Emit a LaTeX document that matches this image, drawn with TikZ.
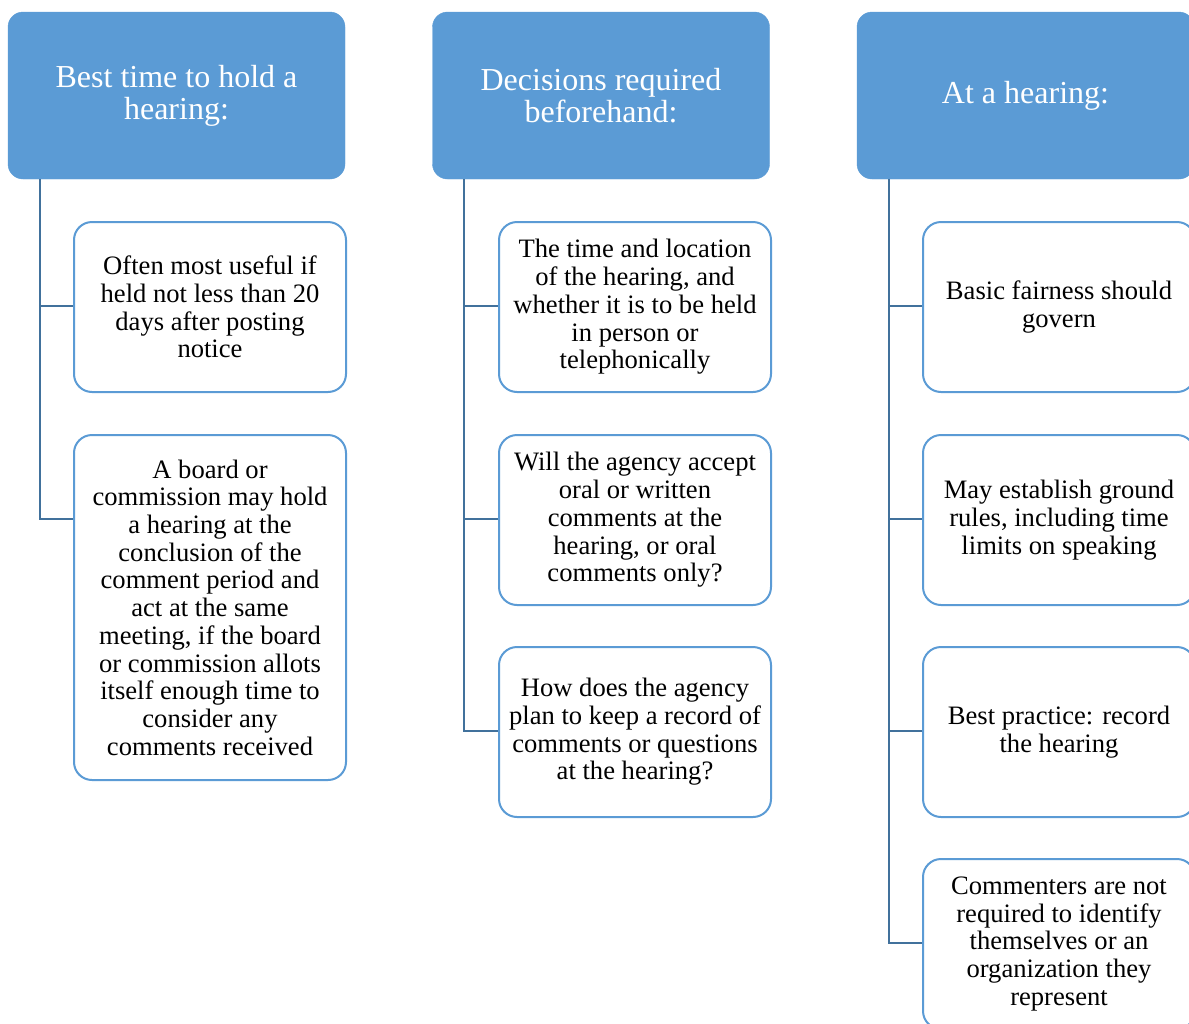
\documentclass[tikz,border=0pt]{standalone}
\usepackage{fontspec}
\setmainfont{Liberation Serif}
\definecolor{hdrblue}{RGB}{91, 155, 213}
\definecolor{linkblue}{RGB}{65, 113, 156}
\usetikzlibrary{positioning, calc}

\tikzset{
  hdrbox/.style={fill=hdrblue, draw=hdrblue, rounded corners=15pt, minimum width=337pt, minimum height=167pt,
    text=white, align=center, inner sep=4pt, font=\fontsize{32}{32}\selectfont},
  itembox/.style={draw=hdrblue, fill=white, line width=2pt, rounded corners=18pt, minimum width=272pt, minimum height=170pt,
    align=center, inner sep=4pt, font=\fontsize{26.6}{27.7}\selectfont},
  link/.style={draw=linkblue, line width=2pt}
}

\begin{document}
\begin{tikzpicture}[x=1pt, y=-1pt]
  \useasboundingbox (0,0) rectangle (1189,1023);
  \clip (0,0) rectangle (1189,1023);

  % headers
  \node[hdrbox] (hdrA) at (176.5, 95.5) {Best time to hold a\\hearing:};
  \node[hdrbox] (hdrB) at (601, 95.5) {Decisions required\\beforehand:};
  \node[hdrbox] (hdrC) at (1025.5, 95.5) {At a hearing:};

  % first column
  \node[itembox] (a1) at (210, 307) {Often most useful if\\held not less than 20\\days after posting\\notice};
  \node[itembox, minimum height=345pt] (a2) at (210, 607.5) {A board or\\commission may hold\\a hearing at the\\conclusion of the\\comment period and\\act at the same\\meeting, if the board\\or commission allots\\itself enough time to\\consider any\\comments received};

  % second column
  \node[itembox] (b1) at (635, 307) {The time and location\\of the hearing, and\\whether it is to be held\\in person or\\telephonically};
  \node[itembox] (b2) at (635, 520) {Will the agency accept\\oral or written\\comments at the\\hearing, or oral\\comments only?};
  \node[itembox] (b3) at (635, 732) {How does the agency\\plan to keep a record of\\comments or questions\\at the hearing?};

  % third column
  \node[itembox] (c1) at (1059, 307) {Basic fairness should\\govern};
  \node[itembox] (c2) at (1059, 520) {May establish ground\\rules, including time\\limits on speaking};
  \node[itembox] (c3) at (1059, 732) {Best practice: record\\the hearing};
  \node[itembox] (c4) at (1059, 944) {Commenters are not\\required to identify\\themselves or an\\organization they\\represent};

  % connectors
  \foreach \h/\kids in {hdrA/{a1,a2}, hdrB/{b1,b2,b3}, hdrC/{c1,c2,c3,c4}}
    \foreach \k in \kids
      \draw[link] ([xshift=32pt]\h.south west) |- ([yshift=-85pt]\k.north west);
\end{tikzpicture}
\end{document}
